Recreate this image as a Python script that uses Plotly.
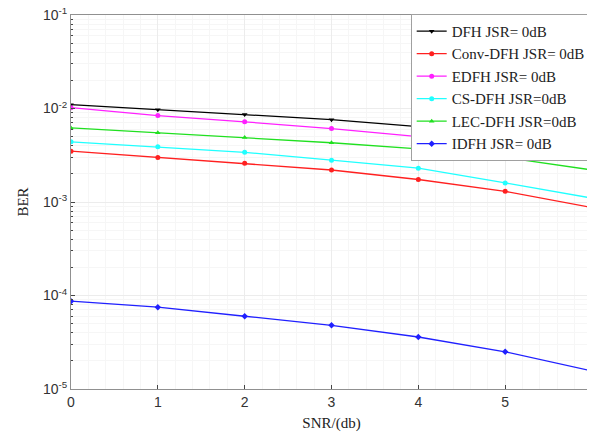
import plotly.graph_objects as go

snr = [0, 1, 2, 3, 4, 5, 6]
names = ["DFH JSR= 0dB", "Conv-DFH JSR= 0dB", "EDFH JSR= 0dB",
         "CS-DFH JSR=0dB", "LEC-DFH JSR=0dB", "IDFH JSR= 0dB"]
dfh = [0.0110, 0.0097, 0.0086, 0.0076, 0.0064, 0.0051, 0.0039]
conv = [0.0035, 0.0030, 0.0026, 0.0022, 0.00174, 0.0013, 0.00087]
edfh = [0.0102, 0.0084, 0.0072, 0.0061, 0.0050, 0.0040, 0.0028]
cs = [0.0044, 0.0039, 0.0034, 0.0028, 0.0023, 0.0016, 0.0011]
lec = [0.0062, 0.0055, 0.0049, 0.0043, 0.0037, 0.0030, 0.0022]
idfh = [8.7e-5, 7.5e-5, 6.0e-5, 4.8e-5, 3.6e-5, 2.5e-5, 1.56e-5]
series = [dfh, conv, edfh, cs, lec, idfh]
colors = ["#000000", "#ff2020", "#ff20ff", "#20ffff", "#20e020", "#2020ff"]
symbols = ["triangle-down", "circle", "circle", "circle", "triangle-up", "diamond"]

ytickvals = [1e-5, 1e-4, 1e-3, 1e-2, 1e-1]
yticktext = ["10<sup>-5</sup>", "10<sup>-4</sup>", "10<sup>-3</sup>",
             "10<sup>-2</sup>", "10<sup>-1</sup>"]
yminor = [m * 10.0 ** e for e in range(-5, -1) for m in range(2, 10)]
xminor = [i / 5 for i in range(31) if i % 5]

fig = go.Figure()
for n, s, c, m in zip(names, series, colors, symbols):
    fig.add_trace(go.Scatter(x=snr, y=s, name=n, mode="lines+markers",
                             line=dict(color=c, width=1.3),
                             marker=dict(symbol=m, size=5, color=c)))

# the page body adds an 8px margin; the figure is sized so the plot reaches the window edge
fig.update_layout(
    width=587, height=426,
    margin=dict(l=63, r=3, t=7, b=45),
    paper_bgcolor="white", plot_bgcolor="white",
    showlegend=True,
    legend=dict(x=0.652, y=1.003, xanchor="left", yanchor="top",
                bgcolor="white", bordercolor="#a0a0a0", borderwidth=1,
                font=dict(family="Liberation Serif", size=15, color="#222"),
                tracegroupgap=0, itemwidth=30),
    xaxis=dict(range=[0, 6], tickvals=snr, ticks="inside", ticklen=4,
               automargin=False, ticklabeloverflow="allow",
               showgrid=True, gridcolor="#ececec", gridwidth=1,
               minor=dict(tickvals=xminor, showgrid=True, gridcolor="#f6f6f6"),
               showline=True, linecolor="#909090", mirror=True, zeroline=False,
               tickfont=dict(family="Liberation Sans", size=14, color="#333"),
               title=dict(text="SNR/(db)", standoff=8,
                          font=dict(family="Liberation Serif", size=15, color="#222"))),
    yaxis=dict(type="log", range=[-5, -1], tickvals=ytickvals, ticktext=yticktext,
               ticks="inside", ticklen=4, automargin=False, ticklabeloverflow="allow",
               showgrid=True, gridcolor="#ececec",
               minor=dict(tickvals=yminor, showgrid=True, gridcolor="#f6f6f6",
                          ticks="inside", ticklen=2),
               showline=True, linecolor="#909090", mirror=True, zeroline=False,
               tickfont=dict(family="Liberation Sans", size=14, color="#333"),
               title=dict(text="BER", standoff=10,
                          font=dict(family="Liberation Serif", size=15, color="#222"))),
)

fig.write_html("out.html")
